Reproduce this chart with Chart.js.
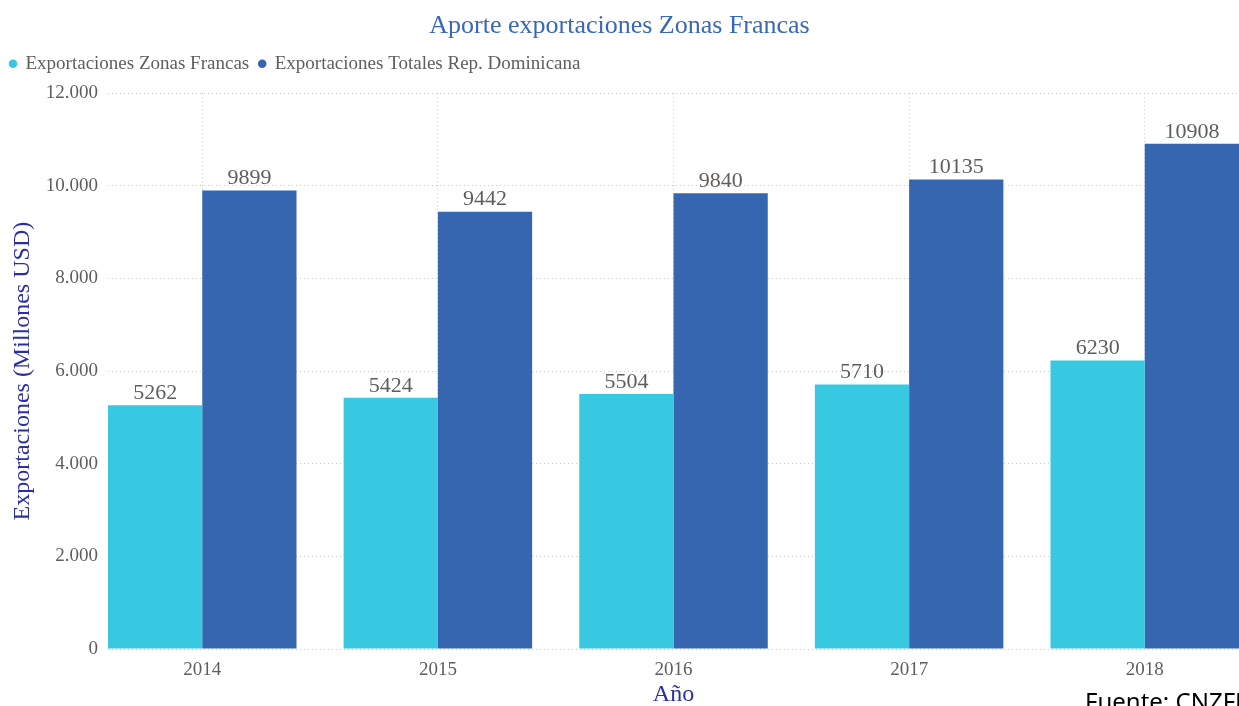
<!DOCTYPE html>
<html>
<head>
<meta charset="utf-8">
<script src="https://cdn.jsdelivr.net/npm/chart.js@4/dist/chart.umd.min.js"></script>
<style>
  html, body { margin: 0; padding: 0; background: #fff; overflow: hidden; }
  #wrap { position: relative; width: 1239px; height: 706px; }
  #fuente { position: absolute; left: 1085px; top: 689px; font: 24px "Noto Sans", "Open Sans", sans-serif; color: #000; white-space: nowrap; line-height: 1; }
</style>
</head>
<body>
<div id="wrap">
  <canvas id="c" width="1239" height="706"></canvas>
  <div id="fuente">Fuente: CNZFE</div>
</div>
<script>
const years = ['2014', '2015', '2016', '2017', '2018'];
const zonasFrancas = [5262, 5424, 5504, 5710, 6230];
const totalesRD = [9899, 9442, 9840, 10135, 10908];
const yTicks = [0, 2000, 4000, 6000, 8000, 10000, 12000];

const FONT = '"Liberation Serif", "DejaVu Serif", serif';
const GRAY = '#605e5c';

function fmt(v) {
  return String(v).replace(/\B(?=(\d{3})+(?!\d))/g, '.');
}

const labelPlugin = {
  id: 'valueLabels',
  afterDatasetsDraw(chart) {
    const ctx = chart.ctx;
    ctx.save();
    ctx.font = '22px ' + FONT;
    ctx.fillStyle = GRAY;
    ctx.textAlign = 'center';
    ctx.textBaseline = 'bottom';
    chart.data.datasets.forEach((ds, di) => {
      const meta = chart.getDatasetMeta(di);
      meta.data.forEach((el, i) => {
        ctx.fillText(String(ds.data[i].y), el.x, el.y - 1);
      });
    });
    ctx.restore();
  }
};

const legendSpacer = {
  id: 'legendSpacer',
  afterInit(chart) {
    const lg = chart.legend;
    if (!lg) return;
    const orig = lg.fit;
    lg.fit = function () {
      orig.call(this);
      this.height += 10;
    };
  }
};

new Chart(document.getElementById('c'), {
  type: 'bar',
  data: {
    datasets: [
      {
        label: 'Exportaciones Zonas Francas',
        data: years.map((y, i) => ({ x: i, y: zonasFrancas[i] })),
        backgroundColor: '#37c9e1',
        borderWidth: 0
      },
      {
        label: 'Exportaciones Totales Rep. Dominicana',
        data: years.map((y, i) => ({ x: i, y: totalesRD[i] })),
        backgroundColor: '#3666b0',
        borderWidth: 0
      }
    ]
  },
  options: {
    responsive: false,
    animation: false,
    layout: { padding: { left: 0, right: 0, top: 0, bottom: 0 } },
    datasets: { bar: { categoryPercentage: 0.8, barPercentage: 1.0 } },
    plugins: {
      title: {
        display: true,
        text: 'Aporte exportaciones Zonas Francas',
        color: '#3a68b6',
        font: { family: FONT, size: 26, weight: 'normal', lineHeight: 1.2 },
        padding: { top: 11, bottom: 2 }
      },
      legend: {
        display: true,
        position: 'top',
        align: 'start',
        labels: {
          usePointStyle: true,
          pointStyle: 'circle',
          boxWidth: 6,
          boxHeight: 6,
          padding: 10,
          color: GRAY,
          font: { family: FONT, size: 19 }
        }
      },
      tooltip: { enabled: false }
    },
    scales: {
      x: {
        type: 'linear',
        offset: false,
        min: -0.4,
        max: 4.4,
        afterFit(scale) { scale.height = 57; },
        ticks: {
          stepSize: 1,
          includeBounds: false,
          autoSkip: false,
          maxRotation: 0,
          padding: 10,
          color: GRAY,
          font: { family: FONT, size: 19 },
          callback: (v) => years[v] !== undefined ? years[v] : ''
        },
        grid: { display: true, offset: false, drawTicks: false, color: '#c8c8c8', lineWidth: 1 },
        border: { display: false, dash: [1, 3] },
        title: {
          display: true,
          text: 'Año',
          color: '#2b2fa3',
          font: { family: FONT, size: 24, lineHeight: 1 },
          padding: { top: 0, bottom: -1 }
        }
      },
      y: {
        min: 0,
        max: 12000,
        afterFit(scale) { scale.width = 108; },
        afterBuildTicks(scale) { scale.ticks = yTicks.map(v => ({ value: v })); },
        ticks: {
          stepSize: 2000,
          padding: 10,
          color: GRAY,
          font: { family: FONT, size: 19 },
          callback: (v) => fmt(v)
        },
        grid: { display: true, drawTicks: false, color: '#c8c8c8', lineWidth: 1 },
        border: { display: false, dash: [1, 3] },
        title: {
          display: true,
          text: 'Exportaciones (Millones USD)',
          color: '#2b2fa3',
          font: { family: FONT, size: 24, lineHeight: 1 },
          padding: { top: 11, bottom: 0 }
        }
      }
    }
  },
  plugins: [labelPlugin, legendSpacer]
});
</script>
</body>
</html>
